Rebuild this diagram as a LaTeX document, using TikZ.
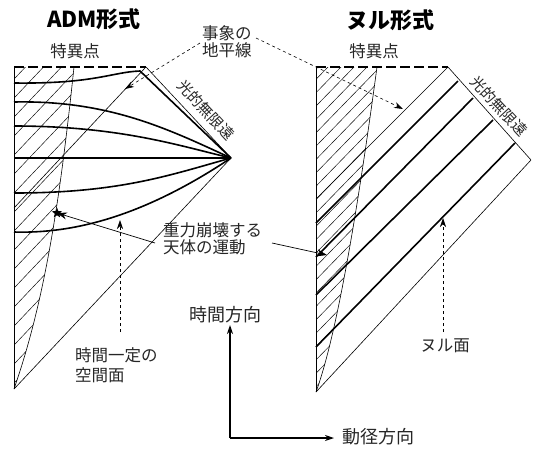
\documentclass[tikz,border=0pt]{standalone}
\usepackage{fontspec}
\newfontfamily\cjk{Noto Sans CJK JP}
\usetikzlibrary{arrows.meta,shapes.geometric}
\begin{document}
\begin{tikzpicture}[x=1pt,y=-1pt,
  thinline/.style={line width=0.6pt},
  hatchline/.style={line width=0.45pt},
  slice/.style={line width=1.6pt},
  singular/.style={line width=2.2pt,dash pattern=on 10pt off 4pt},
  lbl/.style={font=\cjk\fontsize{16.5}{17}\selectfont,inner sep=0pt,text=black!85},
  rlbl/.style={font=\cjk\fontsize{15}{16}\selectfont,inner sep=0pt,text=black!85,rotate=-47},
  axlbl/.style={font=\cjk\fontsize{18}{19}\selectfont,inner sep=0pt,text=black!85},
  title/.style={font=\cjk\bfseries\fontsize{22}{24}\selectfont,inner sep=0pt},
  ptr/.style={thinline,dashed,-{Stealth[length=9pt,width=6pt]}},
  lblarrow/.style={line width=0.7pt,-{Stealth[length=10pt,width=7pt]}},
  axis/.style={line width=1.1pt,-{Stealth[length=9pt,width=6pt]}}]
\useasboundingbox (0,0) rectangle (533,448);

% ================= ADM (left) =================
\coordinate (Li0) at (231,158);
\coordinate (Ltop) at (146,67);
\coordinate (Lbot) at (14,389);
\coordinate (Ltl) at (14,67);
% hatching
\begin{scope}
  \clip (14,67) -- (74,67) .. controls (60,200) and (45,300) .. (14,389) -- cycle;
  \foreach \c in {-380,-362,...,100}
    \draw[hatchline] (\c,400) -- ++(360,-380);
\end{scope}
\draw[thinline] (74,67) .. controls (60,200) and (45,300) .. (14,389);
% edges
\draw[thinline] (Ltl) -- (Lbot);
\draw[thinline] (Lbot) -- (Li0);
\draw[thinline] (Ltop) -- (Li0);
\draw[singular] (Ltl) -- (Ltop);
% event horizon
\draw[thinline] (145,68) -- (14,208);
% time slices
\draw[slice] (14,83) .. controls (95,84) and (112,72) .. (140,71) -- (Li0);
\draw[slice] (14,102) .. controls (110,100) and (170,130) .. (Li0);
\draw[slice] (14,126) .. controls (120,126) and (180,146) .. (Li0);
\draw[slice] (14,158) -- (Li0);
\draw[slice] (14,193) .. controls (120,193) and (170,175) .. (Li0);
\draw[slice] (14,232) .. controls (80,234) and (150,212) .. (Li0);
% star
\node[star,star points=5,star point ratio=2.4,fill=black,minimum size=11pt,inner sep=0pt] (Lstar) at (57,213) {};

% ================= Null (right) =================
\coordinate (Ri0) at (531,160);
\coordinate (Rtop) at (448,67);
\coordinate (Rbot) at (316,392);
\coordinate (Rtl) at (316,67);
\begin{scope}
  \clip (316,67) -- (377,67) .. controls (355,230) and (335,340) .. (316,392) -- cycle;
  \foreach \c in {-100,-87,...,420}
    \draw[hatchline] (\c,400) -- ++(360,-370);
\end{scope}
\draw[thinline] (377,67) .. controls (355,230) and (335,340) .. (316,392);
\draw[thinline] (Rtl) -- (Rbot);
\draw[thinline] (Rbot) -- (Ri0);
\draw[thinline] (Rtop) -- (Ri0);
\draw[singular] (Rtl) -- (Rtop);
% event horizon (thin) and null surfaces (thick)
\draw[thinline] (Rtop) -- (316,199);
\draw[slice] (458,81) -- (316,223);
\draw[slice] (473,98) -- (316,257);
\draw[slice] (493,120) -- (316,295);
\draw[slice] (515,143) -- (316,347);

% ================= labels =================
\node[title] (t1) at (94,19) {ADM形式};
\node[title] (t2) at (390,20) {ヌル形式};
\node[lbl] (s1) at (75,51) {特異点};
\node[lbl] (s2) at (374,51) {特異点};
\node[lbl,anchor=west] (eh1) at (202,33) {事象の};
\node[lbl,anchor=west] (eh2) at (202,50) {地平線};
\node[rlbl] (ni1) at (206,110) {光的無限遠};
\node[rlbl] (ni2) at (499,106) {光的無限遠};
\node[lbl,anchor=west] (col1) at (163,230) {重力崩壊する};
\node[lbl,anchor=west] (col2) at (163,247) {天体の運動};
\node[lbl,anchor=west] (ts1) at (75,355) {時間一定の};
\node[lbl,anchor=west] (ts2) at (75,375) {空間面};
\node[lbl] (nf) at (445,346) {ヌル面};
\node[axlbl] (tdir) at (225,315) {時間方向};
\node[axlbl,anchor=west] (rdir) at (342,437) {動径方向};

% pointers
\coordinate (ehL) at (125,89);
\coordinate (ehR) at (403,109);
\draw[ptr] (200,43) -- (ehL);
\draw[ptr] (256,38) -- (ehR);
\coordinate (colA) at (155,243);
\coordinate (colB) at (272,243);
\draw[lblarrow] (colA) -- (Lstar.center);
\draw[lblarrow] (colB) -- (327,255);
\coordinate (tsA) at (120,332);
\coordinate (tsB) at (120,220);
\draw[ptr] (tsA) -- (tsB);
\coordinate (nfA) at (443,332);
\coordinate (nfB) at (443,218);
\draw[ptr] (nfA) -- (nfB);

% axes
\coordinate (O) at (230,438);
\draw[axis] (O) -- (230,325);
\draw[axis] (O) -- (334,438);
\end{tikzpicture}
\end{document}
